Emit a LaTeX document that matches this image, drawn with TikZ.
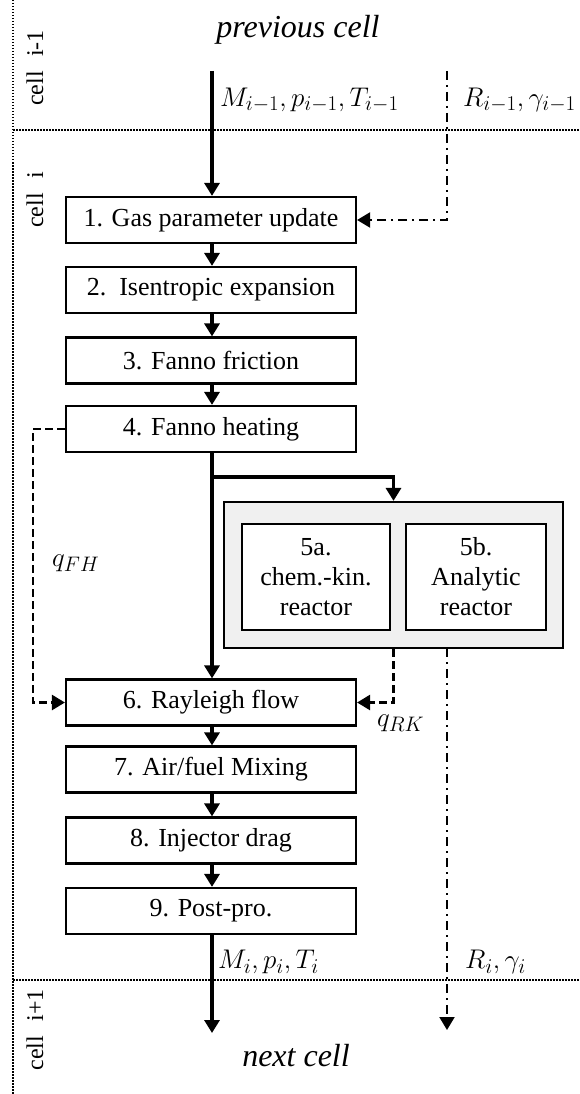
\RequirePackage{fix-cm}
\documentclass[tikz,border=0pt]{standalone}
\usepackage{fontspec}
\setmainfont{Liberation Serif}
\DeclareMathSizes{27}{27}{21}{15}
\usetikzlibrary{arrows.meta}
\newcommand{\cellgap}{\hspace{0.6em}}
\begin{document}
\begin{tikzpicture}[x=1pt,y=-1pt,
  txt/.style={font=\fontsize{26}{30}\selectfont},
  proc/.style={txt, draw, line width=2.2pt, minimum width=290pt, minimum height=46pt, inner sep=0pt, fill=white},
  reac/.style={txt, draw, line width=2.2pt, minimum height=106pt, inner sep=0pt, align=center},
  tip/.style={-{Triangle[length=13pt,width=15pt]}},
  flow/.style={tip, line width=3.2pt},
  heat/.style={tip, line width=2.6pt, dash pattern=on 8pt off 4pt},
  gas/.style={tip, line width=2pt, dash pattern=on 9pt off 5pt on 2pt off 5pt},
  border/.style={line width=1.5pt, dash pattern=on 1.5pt off 1.5pt},
  celllabel/.style={font=\fontsize{24}{30}\selectfont, rotate=90, anchor=center},
  cellname/.style={font=\fontsize{32}{34}\selectfont\itshape},
  var/.style={font=\fontsize{27}{30}\selectfont, anchor=west, inner sep=0pt}
]
\useasboundingbox (0,0) rectangle (579,1094);

% cell borders
\draw[border] (13,0) -- (13,1094);
\draw[border] (13,130) -- (579,130);
\draw[border] (13,980) -- (579,980);

% cell names
\node[celllabel] (c0) at (35,68) {cell\cellgap i-1};
\node[celllabel] (c1) at (35,200) {cell\cellgap i};
\node[celllabel] (c2) at (35,1030) {cell\cellgap i+1};

\node[cellname] (prev) at (298,30) {previous cell};
\node[cellname] (next) at (296,1056) {next cell};

% process chain
\node[proc] (b1) at (211,220) {1. Gas parameter update};
\node[proc] (b2) at (211,290) {2.\ \ Isentropic expansion};
\node[proc] (b3) at (211,360.5) {3. Fanno friction};
\node[proc] (b4) at (211,429) {4. Fanno heating};
\node[proc] (b6) at (211,702.5) {6. Rayleigh flow};
\node[proc] (b7) at (211,769.5) {7. Air/fuel Mixing};
\node[proc] (b8) at (211,840.5) {8. Injector drag};
\node[proc] (b9) at (211,911) {9. Post-pro.};

% reactor group
\node[draw, line width=2.2pt, fill=black!6, minimum width=339pt, minimum height=146pt, inner sep=0pt] (grp) at (393.5,575) {};
\node[reac, fill=white, minimum width=148pt] (r5a) at (316,577) {5a.\\chem.-kin.\\reactor};
\node[reac, fill=white, minimum width=140pt] (r5b) at (476,577) {5b.\\Analytic\\reactor};

% flow state
\coordinate (inM) at (212,71);
\coordinate (outM) at (212,1033);
\draw[flow] (inM) -- (b1.north -| inM);
\draw[flow] (b1.south -| inM) -- (b2.north -| inM);
\draw[flow] (b2.south -| inM) -- (b3.north -| inM);
\draw[flow] (b3.south -| inM) -- (b4.north -| inM);
\draw[flow] (b4.south -| inM) -- (b6.north -| inM);
\coordinate (split) at (212,477);
\draw[flow] (split) -| (grp.north);
\draw[flow] (b6.south -| inM) -- (b7.north -| inM);
\draw[flow] (b7.south -| inM) -- (b8.north -| inM);
\draw[flow] (b8.south -| inM) -- (b9.north -| inM);
\draw[flow] (b9.south -| inM) -- (outM);

% heat release
\draw[heat] (b4.west) -- ++(-32,0) |- (b6.west);
\draw[heat] (grp.south) |- (b6.east);

% gas properties
\coordinate (inR) at (447,71);
\coordinate (grpR) at (447,648);
\coordinate (outR) at (447,1030);
\draw[gas] (inR) |- (b1.east);
\draw[gas] (grpR) -- (outR);

% labels
\node[var] (lMin) at (220,100) {$M_{i-1},p_{i-1},T_{i-1}$};
\node[var] (lRin) at (463,100) {$R_{i-1},\gamma_{i-1}$};
\node[var] (lMout) at (218,962) {$M_i,p_i,T_i$};
\node[var] (lRout) at (465,962) {$R_i,\gamma_i$};
\node[var] (qfh) at (52,563) {$q_{FH}$};
\node[var] (qrk) at (377,723) {$q_{RK}$};
\end{tikzpicture}
\end{document}
